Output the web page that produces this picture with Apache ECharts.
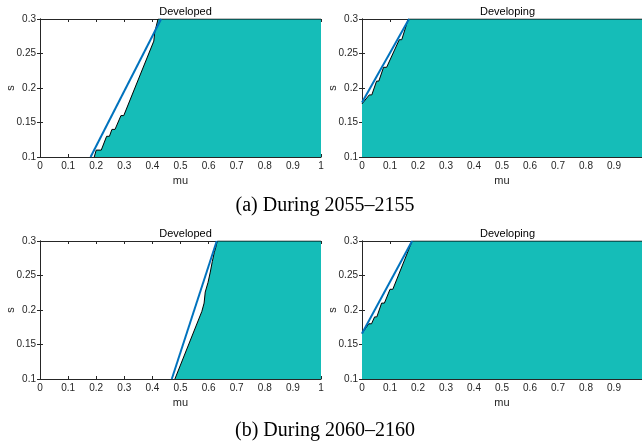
<!DOCTYPE html>
<html><head><meta charset="utf-8">
<script src="https://cdn.jsdelivr.net/npm/echarts@6/dist/echarts.min.js"></script>
<style>html,body{margin:0;padding:0;background:#fff}#c{width:642px;height:444px}</style>
</head><body><div id="c"></div>
<script>
// ---- data ----
const panelTitles = ['Developed', 'Developing', 'Developed', 'Developing'];
const captions = ['(a) During 2055–2155', '(b) During 2060–2160'];
const xName = 'mu';
const yName = 's';
const xRange = [0, 1], xStep = 0.1;
const yRange = [0.1, 0.3], yStep = 0.05;

// boundary of the shaded (feasible) region: [mu, s]
const boundary2055Developed = [[0.193,0.1],[0.20,0.11],[0.218,0.11],[0.237,0.13],[0.247,0.13],[0.256,0.14],[0.267,0.14],[0.288,0.16],[0.298,0.16],[0.405,0.268],[0.408,0.28],[0.42,0.3],[1,0.3]];
const boundary2055Developing = [[0,0.177],[0.026,0.19],[0.035,0.19],[0.052,0.21],[0.06,0.21],[0.077,0.23],[0.088,0.23],[0.133,0.27],[0.142,0.27],[0.165,0.3],[1,0.3]];
const boundary2060Developed = [[0.48,0.1],[0.576,0.198],[0.584,0.21],[0.588,0.226],[0.598,0.24],[0.606,0.255],[0.613,0.27],[0.62,0.283],[0.625,0.29],[0.631,0.3],[1,0.3]];
const boundary2060Developing = [[0,0.166],[0.024,0.18],[0.034,0.18],[0.045,0.19],[0.053,0.19],[0.07,0.21],[0.08,0.21],[0.1,0.23],[0.11,0.23],[0.179,0.3],[1,0.3]];
// straight threshold lines: [mu, s]
const line2055Developed = [[0.18,0.1],[0.431,0.3]];
const line2055Developing = [[0,0.179],[0.168,0.3]];
const line2060Developed = [[0.469,0.1],[0.629,0.3]];
const line2060Developing = [[0,0.166],[0.179,0.3]];

const boundaries = [boundary2055Developed, boundary2055Developing, boundary2060Developed, boundary2060Developing];
const lines = [line2055Developed, line2055Developing, line2060Developed, line2060Developing];

// ---- layout ----
const grids = [
  {left: 40, top: 19, width: 281, height: 138},
  {left: 362, top: 19, width: 281, height: 138},
  {left: 40, top: 241, width: 281, height: 138},
  {left: 362, top: 241, width: 281, height: 138}
];
const axisColor = '#262626';
const teal = '#15bdb8';
const blue = '#0072BD';
const font = 'Liberation Sans, Arial, sans-serif';

const xAxes = [], yAxes = [], series = [], titles = [];
grids.forEach((g, i) => {
  const rightPanel = (i % 2 === 1);
  const common = {
    type: 'value', gridIndex: i, min: xRange[0], max: xRange[1], interval: xStep,
    axisLine: {show: true, lineStyle: {color: axisColor, width: 1}},
    axisTick: {show: true, inside: true, length: 3, lineStyle: {color: axisColor}},
    splitLine: {show: false}
  };
  xAxes.push(Object.assign({}, common, {
    position: 'bottom',
    name: xName, nameLocation: 'middle', nameGap: 18, nameMoveOverlap: false,
    nameTextStyle: {fontFamily: font, fontSize: 11, color: axisColor},
    axisLabel: {margin: 4, fontFamily: font, fontSize: 10, color: axisColor, showMaxLabel: !rightPanel}
  }));
  xAxes.push(Object.assign({}, common, {position: 'top', axisLabel: {show: false}}));
  const ycommon = {
    type: 'value', gridIndex: i, min: yRange[0], max: yRange[1], interval: yStep,
    axisLine: {show: true, lineStyle: {color: axisColor, width: 1}},
    axisTick: {show: true, inside: true, length: 3, lineStyle: {color: axisColor}},
    splitLine: {show: false}
  };
  yAxes.push(Object.assign({}, ycommon, {
    position: 'left',
    name: yName, nameLocation: 'middle', nameGap: 29, nameMoveOverlap: false,
    nameTextStyle: {fontFamily: font, fontSize: 11, color: axisColor, verticalAlign: 'middle'},
    axisLabel: {margin: 4, fontFamily: font, fontSize: 10, color: axisColor}
  }));
  yAxes.push(Object.assign({}, ycommon, {position: 'right', axisLabel: {show: false}}));

  series.push({
    type: 'line', xAxisIndex: 2 * i, yAxisIndex: 2 * i,
    data: boundaries[i], symbol: 'none', showSymbol: false,
    lineStyle: {color: '#000', width: 1},
    areaStyle: {color: teal, opacity: 1, origin: 'start'},
    z: 2, silent: true
  });
  series.push({
    type: 'line', xAxisIndex: 2 * i, yAxisIndex: 2 * i,
    data: lines[i], symbol: 'none', showSymbol: false,
    lineStyle: {color: blue, width: 2},
    z: 3, silent: true
  });
  titles.push({
    text: panelTitles[i], left: g.left + g.width / 2, top: g.top - 18, textAlign: 'center',
    textStyle: {fontFamily: font, fontSize: 11, fontWeight: 'normal', color: '#000'}
  });
});

const chart = echarts.init(document.getElementById('c'), null, {renderer: 'canvas'});
chart.setOption({
  animation: false,
  backgroundColor: '#fff',
  title: titles,
  grid: grids,
  xAxis: xAxes,
  yAxis: yAxes,
  series: series,
  graphic: [
    {type: 'text', x: 325, y: 206, style: {text: captions[0], font: '20px "Liberation Serif", "Times New Roman", serif', fill: '#000', textAlign: 'center', textVerticalAlign: 'middle'}},
    {type: 'text', x: 325, y: 431, style: {text: captions[1], font: '20px "Liberation Serif", "Times New Roman", serif', fill: '#000', textAlign: 'center', textVerticalAlign: 'middle'}}
  ]
});
</script></body></html>
